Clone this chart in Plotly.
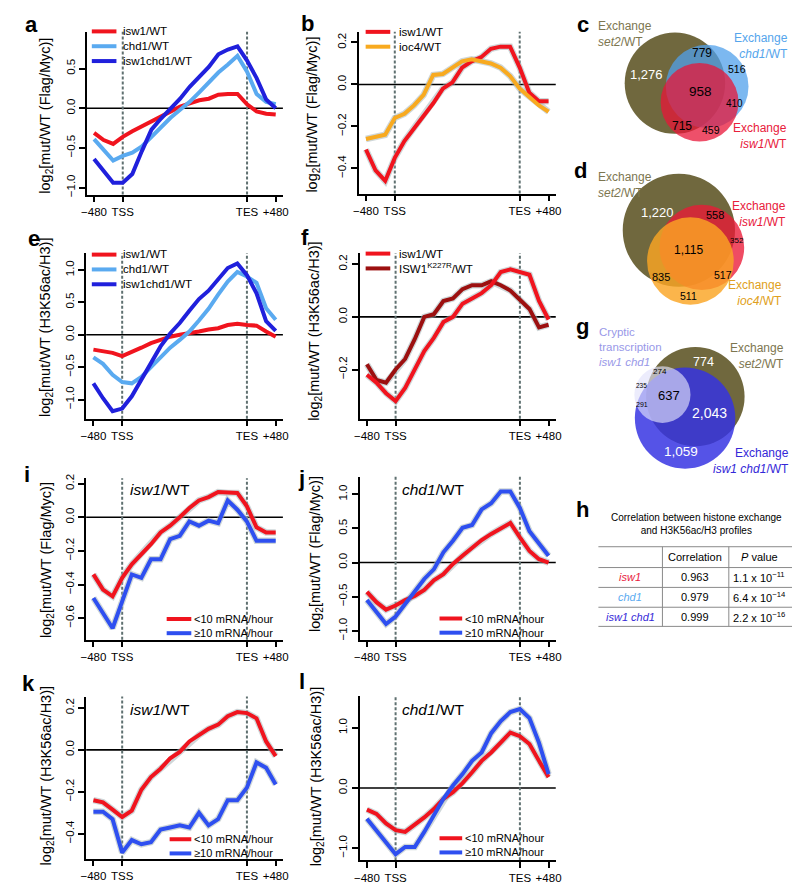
import plotly.graph_objects as go

W, H = 800, 883
FONT = "Liberation Sans, Arial, Helvetica, sans-serif"

# ---------------- data ----------------
bins = list(range(20))                      # metagene bins: -480..TSS (3), gene body (13), TES..+480 (3)
x_tick_pos = [0, 3, 16, 19]
x_tick_text = ["\u2212480", "TSS", "TES", "+480"]

# panel a  log2[mut/WT (Flag/Myc)]
a_isw1 = [-0.31, -0.40, -0.45, -0.36, -0.29, -0.23, -0.16, -0.10, -0.04, 0.02, 0.06, 0.10, 0.12, 0.17, 0.18, 0.18, 0.05, -0.04, -0.07, -0.08]
a_chd1 = [-0.39, -0.53, -0.66, -0.60, -0.56, -0.48, -0.36, -0.24, -0.12, -0.02, 0.08, 0.20, 0.32, 0.45, 0.55, 0.66, 0.46, 0.18, 0.08, 0.05]
a_isw1chd1 = [-0.64, -0.80, -0.94, -0.94, -0.83, -0.54, -0.27, -0.13, -0.01, 0.12, 0.27, 0.40, 0.52, 0.68, 0.74, 0.78, 0.60, 0.38, 0.11, 0.00]
# panel b
b_isw1 = [-0.31, -0.41, -0.46, -0.35, -0.27, -0.21, -0.15, -0.09, -0.02, 0.01, 0.08, 0.11, 0.13, 0.17, 0.18, 0.18, 0.08, -0.04, -0.08, -0.08]
b_ioc4 = [-0.26, -0.25, -0.24, -0.16, -0.14, -0.10, -0.05, 0.045, 0.05, 0.08, 0.11, 0.12, 0.11, 0.10, 0.08, 0.04, -0.02, -0.06, -0.10, -0.13]
# panel e  log2[mut/WT (H3K56ac/H3)]
e_isw1 = [-0.23, -0.25, -0.28, -0.33, -0.27, -0.20, -0.13, -0.08, -0.03, 0.00, 0.02, 0.05, 0.08, 0.10, 0.15, 0.17, 0.15, 0.14, 0.05, -0.03]
e_chd1 = [-0.35, -0.45, -0.62, -0.73, -0.75, -0.65, -0.50, -0.35, -0.20, -0.08, 0.05, 0.22, 0.40, 0.62, 0.82, 0.97, 0.90, 0.80, 0.41, 0.23]
e_isw1chd1 = [-0.75, -0.98, -1.18, -1.14, -0.95, -0.70, -0.42, -0.18, 0.02, 0.18, 0.37, 0.55, 0.68, 0.85, 1.03, 1.10, 0.92, 0.64, 0.21, 0.06]
# panel f
f_isw1 = [-0.22, -0.25, -0.29, -0.32, -0.27, -0.20, -0.13, -0.08, -0.02, 0.00, 0.05, 0.07, 0.09, 0.12, 0.17, 0.18, 0.17, 0.16, 0.06, -0.01]
f_k227r = [-0.18, -0.24, -0.25, -0.20, -0.16, -0.085, 0.00, 0.01, 0.06, 0.07, 0.105, 0.12, 0.12, 0.135, 0.12, 0.10, 0.065, 0.03, -0.04, -0.03]
# panel i  isw1/WT exchange, split by transcription rate
i_lt10 = [-0.34, -0.43, -0.47, -0.36, -0.28, -0.22, -0.16, -0.09, -0.05, 0.00, 0.055, 0.10, 0.12, 0.15, 0.145, 0.145, 0.065, -0.06, -0.09, -0.09]
i_ge10 = [-0.48, -0.57, -0.66, -0.50, -0.34, -0.36, -0.25, -0.25, -0.13, -0.11, -0.025, -0.05, -0.02, -0.035, 0.10, 0.045, -0.025, -0.14, -0.14, -0.14]
# panel j  chd1/WT exchange
j_lt10 = [-0.43, -0.58, -0.69, -0.63, -0.55, -0.49, -0.40, -0.26, -0.17, -0.02, 0.10, 0.22, 0.33, 0.42, 0.50, 0.58, 0.37, 0.17, 0.05, 0.00]
j_ge10 = [-0.55, -0.73, -0.90, -0.79, -0.61, -0.44, -0.24, -0.10, 0.15, 0.32, 0.51, 0.55, 0.78, 0.87, 1.04, 1.04, 0.80, 0.46, 0.29, 0.10]
# panel k  isw1/WT H3K56ac
k_lt10 = [-0.24, -0.25, -0.285, -0.32, -0.29, -0.19, -0.13, -0.09, -0.04, -0.01, 0.04, 0.07, 0.10, 0.12, 0.16, 0.18, 0.175, 0.15, 0.04, -0.03]
k_ge10 = [-0.295, -0.295, -0.33, -0.49, -0.43, -0.45, -0.44, -0.38, -0.37, -0.36, -0.37, -0.30, -0.36, -0.33, -0.24, -0.24, -0.18, -0.06, -0.085, -0.165]
# panel l  chd1/WT H3K56ac
l_lt10 = [-0.36, -0.43, -0.59, -0.70, -0.73, -0.62, -0.49, -0.35, -0.18, -0.07, 0.08, 0.26, 0.45, 0.59, 0.75, 0.92, 0.86, 0.73, 0.45, 0.18]
l_ge10 = [-0.51, -0.70, -0.90, -1.10, -0.98, -0.98, -0.73, -0.46, -0.18, 0.04, 0.23, 0.45, 0.59, 0.91, 1.11, 1.26, 1.31, 1.16, 0.75, 0.23]

# Venn counts
c_counts = [1276, 779, 516, 958, 410, 715, 459]
d_counts = [1220, 558, 352, 1115, 835, 517, 511]
g_counts = [774, 274, 235, 637, 291, 2043, 1059]

# Table h
h_rows = ["isw1", "chd1", "isw1 chd1"]
h_corr = ["0.963", "0.979", "0.999"]
h_pval = [("1.1", "11"), ("6.4", "14"), ("2.2", "16")]

# ---------------- style ----------------
RED = "#f0141e"
LBLUE = "#5aaaf0"
DBLUE = "#2020dc"
ORANGE = "#f8aa20"
DRED = "#9c1010"
BLUE2 = "#2e4ff0"
HALO = "rgba(160,176,180,0.5)"
DOTC = "#5f7070"
SET2_C = "#7d7650"
CHD1_C = "#55a5ec"
ISW1_C = "#e8203c"
IOC4_C = "#e0a020"
CRYPT_C = "#9898e8"
ICHD_C = "#3428d8"

T_FLAG = "log<sub>2</sub>[mut/WT (Flag/Myc)]"
T_K56 = "log<sub>2</sub>[mut/WT (H3K56ac/H3)]"
LS = 1.3   # plotly line spacing (em)


def px(x):
    return x / W


def py(y):
    return 1 - y / H


panels = [
    dict(k=1, lab="a", labxy=(18, 13), l=74, r=273, t=20, b=184, yr=[-1.0875, 0.9625],
         yt=[-1.0, -0.5, 0.0, 0.5], title=T_FLAG, tx=33, ty=105, halo=False,
         series=[(a_isw1, RED, "isw1/WT"), (a_chd1, LBLUE, "chd1/WT"), (a_isw1chd1, DBLUE, "isw1chd1/WT")],
         leg=dict(x0=79, x1=104, tx=110, yc=34.5, size=11.5), inset=None),
    dict(k=2, lab="b", labxy=(298, 12), l=350, r=550, t=20, b=183, yr=[-0.520, 0.2506],
         yt=[-0.4, -0.2, 0.0, 0.2], title=T_FLAG, tx=304, ty=103, halo=True,
         series=[(b_isw1, RED, "isw1/WT"), (b_ioc4, ORANGE, "ioc4/WT")],
         leg=dict(x0=357, x1=382, tx=390, yc=27.5, size=11.5), inset=None),
    dict(k=3, lab="e", labxy=(20, 228), l=73.3, r=273, t=243.3, b=410, yr=[-1.297, 1.256],
         yt=[-1.0, -0.5, 0.0, 0.5, 1.0], title=T_K56, tx=33, ty=318, halo=False,
         series=[(e_isw1, RED, "isw1/WT"), (e_chd1, LBLUE, "chd1/WT"), (e_isw1chd1, DBLUE, "isw1chd1/WT")],
         leg=dict(x0=79, x1=104, tx=110, yc=259.5, size=11.5), inset=None),
    dict(k=4, lab="f", labxy=(295, 227), l=351, r=550, t=243.3, b=410, yr=[-0.387, 0.241],
         yt=[-0.2, 0.0, 0.2], title=T_K56, tx=306, ty=322, halo=True,
         series=[(f_isw1, RED, "isw1/WT"), (f_k227r, DRED, "ISW1<sup>K227R</sup>/WT")],
         draw_order=[1, 0],
         leg=dict(x0=357, x1=382, tx=390, yc=251, size=11.5), inset=None),
    dict(k=5, lab="i", labxy=(13, 466), l=73.3, r=273, t=470, b=632.7, yr=[-0.728, 0.232],
         yt=[-0.6, -0.4, -0.2, 0.0, 0.2], title=T_FLAG, tx=33, ty=553, halo=True,
         series=[(i_lt10, RED, "<10 mRNA/hour"), (i_ge10, BLUE2, "\u226510 mRNA/hour")],
         leg=dict(x0=155, x1=180, tx=182, yc=619, size=11), inset="<i>isw1</i>/WT", inxy=(116.7, 481.7)),
    dict(k=6, lab="j", labxy=(292, 470), l=351, r=550, t=468.3, b=632.7, yr=[-1.13, 1.26],
         yt=[-1.0, -0.5, 0.0, 0.5, 1.0], title=T_FLAG, tx=306, ty=546, halo=True,
         series=[(j_lt10, RED, "<10 mRNA/hour"), (j_ge10, BLUE2, "\u226510 mRNA/hour")],
         leg=dict(x0=432, x1=455, tx=457, yc=618.5, size=11), inset="<i>chd1</i>/WT", inxy=(392.7, 481.7)),
    dict(k=7, lab="k", labxy=(15, 677), l=73.3, r=273, t=690, b=853.3, yr=[-0.518, 0.254],
         yt=[-0.4, -0.2, 0.0, 0.2], title=T_K56, tx=33, ty=770, halo=True,
         series=[(k_lt10, RED, "<10 mRNA/hour"), (k_ge10, BLUE2, "\u226510 mRNA/hour")],
         leg=dict(x0=158, x1=180, tx=182, yc=841, size=11), inset="<i>isw1</i>/WT", inxy=(116.3, 703.3)),
    dict(k=8, lab="l", labxy=(292, 675), l=351, r=550, t=689.3, b=855, yr=[-1.20, 1.53],
         yt=[-1.0, 0.0, 1.0], title=T_K56, tx=307, ty=771, halo=True,
         series=[(l_lt10, RED, "<10 mRNA/hour"), (l_ge10, BLUE2, "\u226510 mRNA/hour")],
         leg=dict(x0=432, x1=455, tx=457, yc=840, size=11), inset="<i>chd1</i>/WT", inxy=(392.7, 703.3)),
]

fig = go.Figure()
shapes = []
annotations = []
layout = dict(width=W, height=H, margin=dict(l=0, r=0, t=0, b=0), showlegend=False,
              paper_bgcolor="white", plot_bgcolor="white",
              font=dict(family=FONT, color="black"))


def ann(x, y, text, size, color="black", xanchor="center", yanchor="middle", angle=0, align=None):
    d = dict(x=px(x), y=py(y), xref="paper", yref="paper", text=text, showarrow=False,
             xanchor=xanchor, yanchor=yanchor, textangle=angle, borderpad=0,
             font=dict(family=FONT, size=size, color=color))
    if align:
        d["align"] = align
    annotations.append(d)


for p in panels:
    k = p["k"]
    sfx = "" if k == 1 else str(k)
    xa, ya = "x" + sfx, "y" + sfx
    order = p.get("draw_order", list(range(len(p["series"]))))
    # traces
    if p["halo"]:
        for idx in order:
            vals = p["series"][idx][0]
            fig.add_trace(go.Scatter(x=bins, y=vals, mode="lines", line=dict(color=HALO, width=6.5),
                                     xaxis=xa, yaxis=ya, hoverinfo="skip", showlegend=False))
    for idx in order:
        vals, col, name = p["series"][idx]
        fig.add_trace(go.Scatter(x=bins, y=vals, mode="lines", line=dict(color=col, width=4),
                                 name=name, xaxis=xa, yaxis=ya, showlegend=False))
    # axes
    layout["xaxis" + sfx] = dict(domain=[px(p["l"]), px(p["r"])], range=[-0.75, 19.75], anchor=ya,
                                 tickmode="array", tickvals=x_tick_pos, ticktext=x_tick_text,
                                 showline=True, linecolor="black", linewidth=1.5, ticks="outside",
                                 ticklen=6, tickwidth=1.5, tickcolor="black", showgrid=False, zeroline=False,
                                 tickfont=dict(family=FONT, size=11.5, color="black"), fixedrange=True)
    layout["yaxis" + sfx] = dict(domain=[py(p["b"]), py(p["t"])], range=p["yr"], anchor=xa,
                                 tickmode="array", tickvals=p["yt"], tickformat=".1f", tickangle=-90,
                                 showline=True, linecolor="black", linewidth=1.5, ticks="outside",
                                 ticklen=6, tickwidth=1.5, tickcolor="black", showgrid=False, zeroline=False,
                                 tickfont=dict(family=FONT, size=11.5, color="black"), fixedrange=True)
    # zero line and TSS/TES markers
    shapes.append(dict(type="line", xref=xa + " domain", yref=ya, x0=0, x1=1, y0=0, y1=0,
                       line=dict(color="black", width=1.6), layer="below"))
    for xv in (x_tick_pos[1], x_tick_pos[2]):
        shapes.append(dict(type="line", xref=xa, yref=ya + " domain", x0=xv, x1=xv, y0=0, y1=1,
                           line=dict(color=DOTC, width=2, dash="3px,2px"), layer="below"))
    # y title
    ann(p["tx"], p["ty"], p["title"], 14.5, angle=-90)
    # panel letter
    ann(p["labxy"][0], p["labxy"][1], "<b>%s</b>" % p["lab"], 22)
    # legend: one multi-line text block with line samples
    lg = p["leg"]
    n = len(p["series"])
    step = LS * lg["size"]
    for j, (vals, col, name) in enumerate(p["series"]):
        yy = lg["yc"] + (j - (n - 1) / 2) * step
        shapes.append(dict(type="line", xref="paper", yref="paper", x0=px(lg["x0"]), x1=px(lg["x1"]),
                           y0=py(yy), y1=py(yy), line=dict(color=col, width=4)))
    ann(lg["tx"], lg["yc"], "<br>".join(s[2] for s in p["series"]), lg["size"], xanchor="left", align="left")
    if p.get("inset"):
        ann(p["inxy"][0], p["inxy"][1], p["inset"], 15.5, xanchor="left")


# ---------------- Venn diagrams ----------------
def circle(cx, cy, r, color):
    shapes.append(dict(type="circle", xref="paper", yref="paper",
                       x0=px(cx - r), x1=px(cx + r), y0=py(cy + r), y1=py(cy - r),
                       fillcolor=color, line=dict(width=0), layer="above"))


VS = 12  # venn label font size

# c
circle(671, 71.7, 51, "rgb(112,104,62)")
circle(703.7, 75, 42, "rgba(80,160,235,0.75)")
circle(696, 91, 39.5, "rgba(232,22,56,0.75)")
ann(578, 13, "<b>c</b>", 22)
ann(592, 22, "Exchange<br><i>set2</i>/WT", VS, SET2_C, xanchor="left", align="left")
ann(786.5, 34.7, "Exchange<br><i>chd1</i>/WT", VS, CHD1_C, xanchor="right", align="right")
ann(786, 124.5, "Exchange<br><i>isw1</i>/WT", VS, ISW1_C, xanchor="right", align="right")
c_pos = [(641.7, 63.3, 13, "white"), (698, 41.7, 12, "black"), (734, 57.3, 10.5, "black"),
         (697, 80, 13.5, "black"), (731, 92.3, 10, "black"), (678, 115, 12, "black"), (708, 119.3, 10.5, "black")]
for n_, (x, y, s, col) in zip(c_counts, c_pos):
    ann(x, y, f"{n_:,}", s, col)

# d
circle(675, 220, 57, "rgb(112,104,62)")
circle(698.3, 237.3, 43, "rgba(235,25,55,0.78)")
circle(686.7, 251, 44, "rgba(250,165,35,0.82)")
ann(575, 160, "<b>d</b>", 22)
ann(592, 174, "Exchange<br><i>set2</i>/WT", VS, SET2_C, xanchor="left", align="left")
ann(785, 204, "Exchange<br><i>isw1</i>/WT", VS, ISW1_C, xanchor="right", align="right")
ann(781, 283, "Exchange<br><i>ioc4</i>/WT", VS, IOC4_C, xanchor="right", align="right")
d_pos = [(653, 202.3, 13, "white"), (711.7, 204.3, 11, "black"), (734.3, 230, 8, "black"),
         (685, 240, 12, "black"), (656.7, 266.7, 11, "black"), (720, 265, 10.5, "black"), (685, 286, 10.5, "black")]
for n_, (x, y, s, col) in zip(d_counts, d_pos):
    ann(x, y, f"{n_:,}", s, col)

# g
circle(691.7, 387.7, 50, "rgb(112,104,62)")
circle(681.3, 409.3, 51, "rgba(52,50,226,0.84)")
circle(658.3, 385.7, 28.5, "rgba(226,226,250,0.65)")
ann(576.7, 316.7, "<b>g</b>", 22)
ann(592.7, 338, "Cryptic<br>transcription<br><i>isw1 chd1</i>", 11.5, CRYPT_C, xanchor="left", align="left")
ann(782.3, 346.5, "Exchange<br><i>set2</i>/WT", VS, SET2_C, xanchor="right", align="right")
ann(787.5, 453, "Exchange<br><i>isw1 chd1</i>/WT", VS, ICHD_C, xanchor="right", align="right")
g_pos = [(700, 353.3, 12.5, "white"), (656, 362.5, 8, "black"), (636.7, 376, 6.5, "black"),
         (665, 386.7, 13, "black"), (637.7, 396, 7, "black"), (705.7, 404.3, 14, "white"), (677.3, 442.7, 13.5, "white")]
for n_, (x, y, s, col) in zip(g_counts, g_pos):
    ann(x, y, f"{n_:,}", s, col)

# ---------------- table h ----------------
ann(576.7, 501.7, "<b>h</b>", 22)
ann(693.3, 516.3, "Correlation between histone exchange<br>and H3K56ac/H3 profiles", 10)
for yy in (539, 560, 580, 600, 619.3):
    shapes.append(dict(type="line", xref="paper", yref="paper", x0=px(593.3), x1=px(793.3),
                       y0=py(yy), y1=py(yy), line=dict(color="#8a8a8a", width=1)))
for xx in (658.3, 725.7):
    shapes.append(dict(type="line", xref="paper", yref="paper", x0=px(xx), x1=px(xx),
                       y0=py(539), y1=py(619.3), line=dict(color="#8a8a8a", width=1)))
ann(691.7, 549, "Correlation", 11)
ann(756.7, 549, "<i>P</i> value", 11)
row_cols = [ISW1_C, LBLUE, ICHD_C]
for name, col, cor, (m, e), yy in zip(h_rows, row_cols, h_corr, h_pval, (570, 590, 609.5)):
    ann(625.7, yy, "<i>%s</i>" % name, 11, col)
    ann(691.7, yy, cor, 11)
    ann(756.7, yy, "%s x 10<sup>\u2212%s</sup>" % (m, e), 11)

layout["shapes"] = shapes
layout["annotations"] = annotations
fig.update_layout(**layout)
fig.write_html("out.html")
